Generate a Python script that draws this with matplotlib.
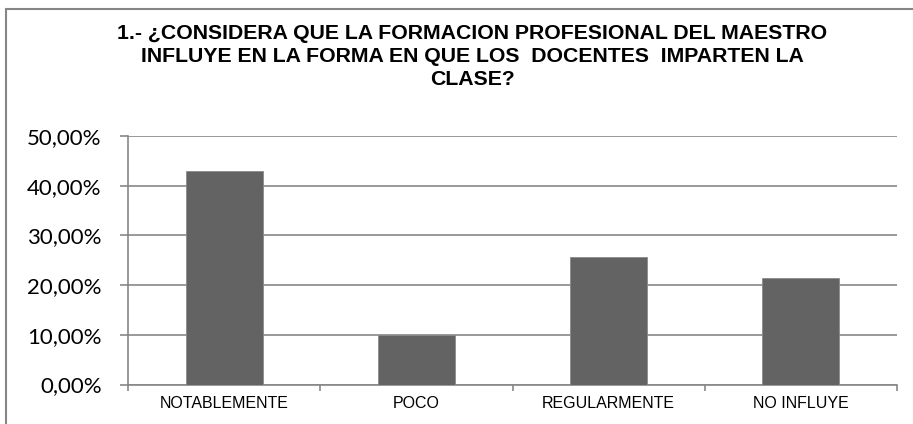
import matplotlib.pyplot as plt
from matplotlib.patches import Rectangle
from matplotlib.ticker import FuncFormatter

categories = ['NOTABLEMENTE', 'POCO', 'REGULARMENTE', 'NO INFLUYE']
values = [0.4286, 0.10, 0.2571, 0.2143]
title = ('1.- ¿CONSIDERA QUE LA FORMACION PROFESIONAL DEL MAESTRO\n'
         'INFLUYE EN LA FORMA EN QUE LOS  DOCENTES  IMPARTEN LA\n'
         'CLASE?')

W, H = 913, 424
fig = plt.figure(figsize=(W / 100, H / 100), dpi=100)

# outer chart frame (runs off the right and bottom edge)
fig.patches.append(Rectangle((6 / W, -0.05), 1.2, 1 - 9 / H + 0.05,
                             transform=fig.transFigure, fill=False,
                             edgecolor='#868686', linewidth=1.5))

ax = fig.add_axes([128 / W, 1 - 384.5 / H, (897 - 128) / W, (384.5 - 136) / H])
x = range(len(categories))
ax.bar(x, values, width=0.4, color='#636363', edgecolor='#8a8a8a',
       linewidth=0.6, zorder=3)

ax.set_xlim(-0.5, len(categories) - 0.5)
ax.set_ylim(0, 0.5)
ax.set_yticks([0, 0.1, 0.2, 0.3, 0.4, 0.5])
ax.yaxis.set_major_formatter(FuncFormatter(lambda v, p: f'{v * 100:.2f}%'.replace('.', ',')))
ax.grid(axis='y', color='#878787', linewidth=1.2, zorder=0)

ax.set_xticks(x)
ax.set_xticklabels(categories, fontsize=11.5, family=['Liberation Sans', 'DejaVu Sans'])
ax.set_xticks([i - 0.5 for i in range(len(categories) + 1)], minor=True)
ax.tick_params(axis='x', which='major', length=0, pad=8)
ax.tick_params(axis='x', which='minor', length=4, width=1.2, color='#878787')
ax.tick_params(axis='y', length=6, width=1.2, color='#878787', pad=13)
for lbl in ax.get_yticklabels():
    lbl.set_fontsize(16)
    lbl.set_family(['Lato', 'DejaVu Sans'])

for side in ['top', 'right']:
    ax.spines[side].set_visible(False)
for side in ['left', 'bottom']:
    ax.spines[side].set_color('#878787')
    ax.spines[side].set_linewidth(1.2)

fig.text(472 / W, 1 - 24 / H, title, ha='center', va='top', fontsize=15.3,
         fontweight='bold', linespacing=1.28,
         family=['Liberation Sans', 'DejaVu Sans'])

fig.savefig('out.png', dpi=100)
